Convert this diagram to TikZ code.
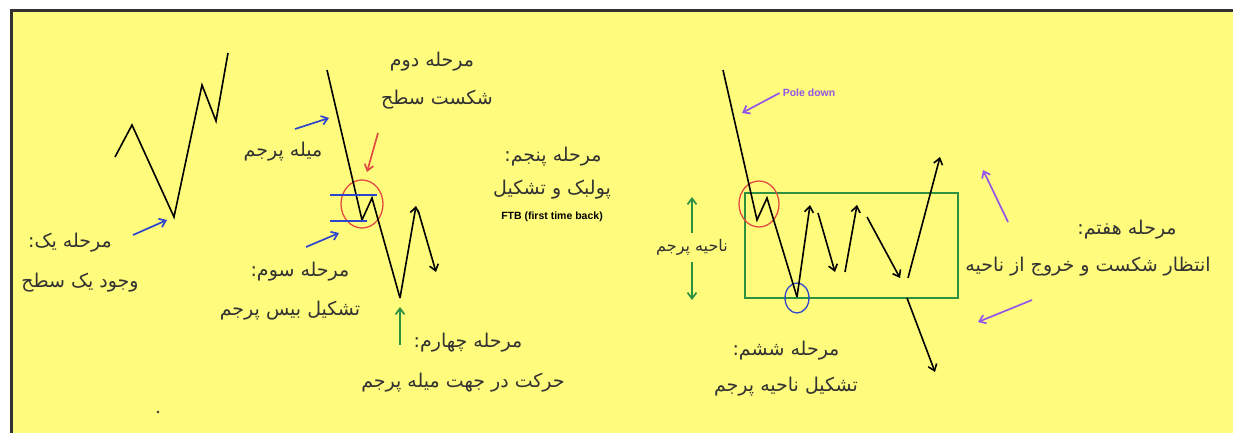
\documentclass[tikz,border=0pt]{standalone}
\usepackage{fontspec}
\usepackage{xcolor}
\usepackage{tikz}
\usetikzlibrary{arrows.meta,shapes.geometric}
\TeXXeTstate=1
\newfontfamily\farsifont[Script=Arabic]{DejaVu Sans}
\newfontfamily\tagfont{Liberation Sans}
\definecolor{chartyellow}{RGB}{255,252,125}
\definecolor{inkgrey}{RGB}{50,50,50}
\definecolor{markblue}{RGB}{45,70,205}
\definecolor{markred}{RGB}{225,75,65}
\definecolor{markgreen}{RGB}{45,145,65}
\definecolor{markpurple}{RGB}{150,85,230}
\tikzset{
  price/.style={draw=black,line width=1.6pt,line join=miter},
  move/.style={price,-{Straight Barb[length=6pt,width=9pt]}},
  pointer/.style={line width=1.7pt,-{Straight Barb[length=6pt,width=9pt]}},
  caption/.style={text=inkgrey,inner sep=0pt,
    font=\farsifont\fontsize{19}{21}\selectfont},
  smallcaption/.style={caption,font=\farsifont\fontsize{16}{18}\selectfont},
  tag/.style={inner sep=0pt,font=\tagfont\bfseries\fontsize{10.5}{12}\selectfont},
  ring/.style={ellipse,draw,line width=1.3pt,inner sep=0pt},
  zonebox/.style={draw=markgreen,line width=1.8pt,inner sep=0pt}
}
\newcommand{\fa}[1]{\beginR #1\endR}

\begin{document}
\begin{tikzpicture}[x=1pt,y=-1pt]
  \useasboundingbox (0,0) rectangle (1233,433);
  \fill[white] (0,0) rectangle (1233,433);
  \fill[chartyellow] (11,11) rectangle (1233,433);
  \draw[inkgrey,line width=3pt] (11,433) -- (11,11) -- (1233,11);

  \node[caption] (stageone) at (70,243) {\fa{مرحله یک:}};
  \node[caption] (stageonetext) at (80,283) {\fa{وجود یک سطح}};
  \node[caption] (poletext) at (283,152) {\fa{میله پرجم}};
  \node[caption] (stagetwo) at (432,62) {\fa{مرحله دوم}};
  \node[caption] (stagetwotext) at (437,100) {\fa{شکست سطح}};
  \node[caption] (stagethree) at (300,272) {\fa{مرحله سوم:}};
  \node[caption] (stagethreetext) at (290,311) {\fa{تشکیل بیس پرجم}};
  \node[caption] (stagefour) at (468,343) {\fa{مرحله چهارم:}};
  \node[caption] (stagefourtext) at (463,383) {\fa{حرکت در جهت میله پرجم}};
  \node[caption] (stagefive) at (553,157) {\fa{مرحله پنجم:}};
  \node[caption] (stagefivetext) at (552,190) {\fa{پولبک و تشکیل}};
  \node[tag] (ftb) at (552,217) {FTB (first time back)};
  \node[smallcaption] (zonetext) at (692,247) {\fa{ناحیه پرجم}};
  \node[tag,text=markpurple] (poledown) at (809,93) {Pole down};
  \node[caption] (stagesix) at (786,351) {\fa{مرحله ششم:}};
  \node[caption] (stagesixtext) at (786,387) {\fa{تشکیل ناحیه پرجم}};
  \node[caption] (stageseven) at (1127,230) {\fa{مرحله هفتم:}};
  \node[caption] (stageseventext) at (1088,267) {\fa{انتظار شکست و خروج از ناحیه}};

  \node[zonebox,minimum width=213pt,minimum height=105pt] (flagzone) at (851.5,245.5) {};
  \node[ring,draw=markred,minimum width=42pt,minimum height=48pt] (breakring) at (362,204) {};
  \node[ring,draw=markred,minimum width=40pt,minimum height=46pt] (flagring) at (759,204) {};
  \node[ring,draw=markblue,minimum width=24pt,minimum height=30pt] (basering) at (797,298) {};

  \draw[price] (115,157) -- (132,125) -- (174,217) -- (202,85) -- (216,121) -- (228,53);

  \coordinate (poletop) at (327,70);
  \coordinate (dip) at (362,220);
  \coordinate (bounce) at (372,198);
  \coordinate (base) at (400,298);
  \coordinate (retest) at (416,206);
  \coordinate (retestdown) at (418,210);
  \coordinate (drift) at (436,272);
  \draw[price] (poletop) -- (dip) -- (bounce) -- (base);
  \draw[move] (base) -- (retest);
  \draw[move] (retestdown) -- (drift);
  \draw[markblue,line width=1.8pt] (330,195) -- (377,195);
  \draw[markblue,line width=1.8pt] (330,221) -- (367,221);

  \coordinate (downtop) at (723,70);
  \coordinate (flagdip) at (757,220);
  \coordinate (flagtop) at (767,198);
  \coordinate (flaglow) at (797,297);
  \draw[price] (downtop) -- (flagdip) -- (flagtop) -- (flaglow);
  \draw[move] (flaglow) -- (810,205);
  \draw[move] (818,213) -- (835,272);
  \draw[move] (845,272) -- (857,205);
  \draw[move] (867,217) -- (900,278);
  \draw[move] (908,278) -- (940,157);
  \draw[move] (907,298) -- (935,372);

  \draw[pointer,markblue] (133,235) -- (167,220);
  \draw[pointer,markblue] (295,129) -- (329,118);
  \draw[pointer,markblue] (306,247) -- (339,233);
  \draw[pointer,markred] (378,133) -- (367,172);
  \draw[pointer,markgreen] (400,345) -- (400,307);
  \draw[pointer,markgreen] (692,233) -- (692,197);
  \draw[pointer,markgreen] (692,262) -- (692,300);
  \draw[pointer,markpurple] ([xshift=-3pt]poledown.west) -- (742,113);
  \draw[pointer,markpurple] (1008,222) -- (983,170);
  \draw[pointer,markpurple] (1032,300) -- (978,322);

  \fill[inkgrey] (158,412) circle (1.3pt);
\end{tikzpicture}
\end{document}
